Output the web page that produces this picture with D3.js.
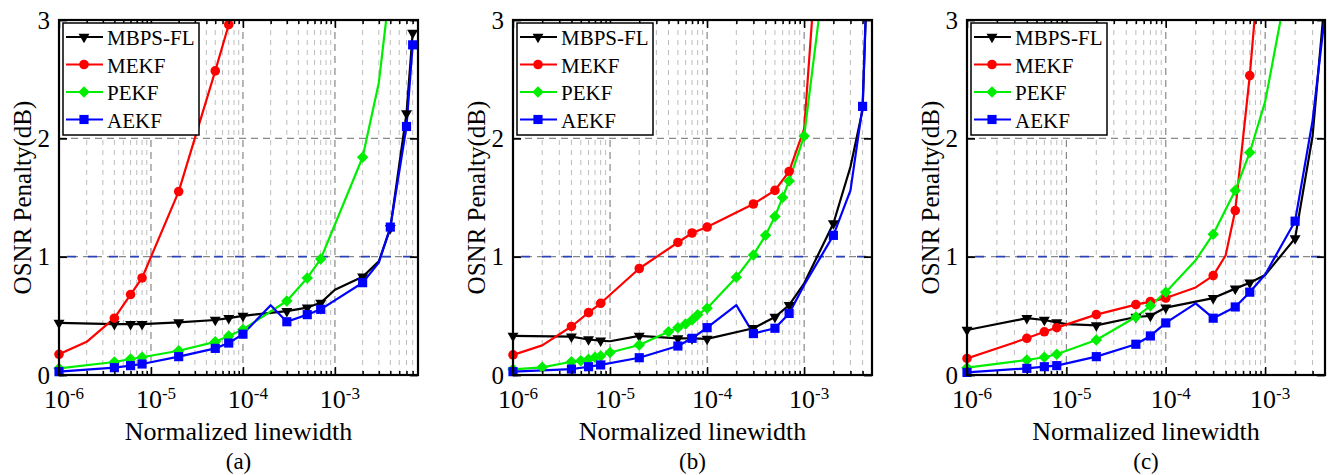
<!DOCTYPE html>
<html>
<head>
<meta charset="utf-8">
<script src="https://cdnjs.cloudflare.com/ajax/libs/d3/7.8.5/d3.min.js"></script>
<style>
  body { margin: 0; background: #fff; }
  text { font-family: "Liberation Serif", "Times New Roman", serif; fill: #000; }
</style>
</head>
<body>
<div id="chart"></div>
<script>
// data: [linewidth, penalty, marker shown (0 = no marker)]
var seriesNames = ["MBPS-FL", "MEKF", "PEKF", "AEKF"];
var panelLabels = ["(a)", "(b)", "(c)"];
var xMaxes = [8e-3, 5e-3, 4e-3];
var yTicks = [0, 1, 2, 3];
var xTickPowers = [-6, -5, -4, -3];

var aBlack = [[1e-6,0.44],[4e-6,0.43],[6e-6,0.43],[8e-6,0.43],[2e-5,0.445],[5e-5,0.465],[7e-5,0.48],[1e-4,0.50],[3e-4,0.54],[5e-4,0.57],[7e-4,0.61],[1e-3,0.72,0],[2e-3,0.83],[3e-3,0.96,0],[4e-3,1.24],[6e-3,2.21],[7e-3,2.89]];
var aRed = [[1e-6,0.175],[2e-6,0.28,0],[4e-6,0.48],[6e-6,0.68],[8e-6,0.82],[2e-5,1.55],[5e-5,2.57],[7e-5,2.96]];
var aGreen = [[1e-6,0.056],[4e-6,0.11],[6e-6,0.135],[8e-6,0.15],[2e-5,0.205],[5e-5,0.28],[7e-5,0.33],[1e-4,0.385],[3e-4,0.625],[5e-4,0.82],[7e-4,0.98],[2e-3,1.84],[3e-3,2.47,0],[4e-3,3.3,0]];
var aBlue = [[1e-6,0.028],[4e-6,0.062],[6e-6,0.079],[8e-6,0.093],[2e-5,0.155],[5e-5,0.225],[7e-5,0.27],[1e-4,0.345],[2e-4,0.59,0],[3e-4,0.45],[5e-4,0.51],[7e-4,0.555],[2e-3,0.78],[3e-3,0.95,0],[4e-3,1.25],[6e-3,2.10],[7e-3,2.79]];

var bBlack = [[1e-6,0.33],[4e-6,0.324],[6e-6,0.30],[8e-6,0.29],[1e-5,0.285,0],[2e-5,0.33],[5e-5,0.31],[7e-5,0.31],[1e-4,0.305],[3e-4,0.395],[5e-4,0.49],[7e-4,0.59],[1e-3,0.775,0],[2e-3,1.28],[3e-3,1.76,0],[4e-3,2.24,0],[5e-3,4.6,0]];
var bRed = [[1e-6,0.17],[2e-6,0.25,0],[4e-6,0.41],[6e-6,0.527],[8e-6,0.606],[2e-5,0.90],[5e-5,1.12],[7e-5,1.20],[1e-4,1.25],[3e-4,1.445],[5e-4,1.56],[7e-4,1.72],[1e-3,2.08,0],[2e-3,5.5,0]];
var bGreen = [[1e-6,0.048],[2e-6,0.065],[4e-6,0.112],[5e-6,0.12],[6e-6,0.133],[7e-6,0.15],[8e-6,0.16],[1e-5,0.19],[2e-5,0.254],[4e-5,0.366],[5e-5,0.40],[6e-5,0.43],[7e-5,0.465],[8e-5,0.51],[1e-4,0.565],[2e-4,0.826],[3e-4,1.015],[4e-4,1.18],[5e-4,1.34],[6e-4,1.50],[7e-4,1.64],[1e-3,2.02],[2e-3,4.0,0]];
var bBlue = [[1e-6,0.028],[4e-6,0.05],[6e-6,0.07],[8e-6,0.085],[2e-5,0.146],[5e-5,0.245],[7e-5,0.31],[1e-4,0.40],[2e-4,0.59,0],[3e-4,0.35],[5e-4,0.395],[7e-4,0.52],[1e-3,0.76,0],[2e-3,1.18],[3e-3,1.56,0],[4e-3,2.27],[5e-3,4.6,0]];

var cBlack = [[1e-6,0.38],[4e-6,0.48],[6e-6,0.465],[8e-6,0.445],[1e-5,0.43,0],[2e-5,0.42],[5e-5,0.49],[7e-5,0.50],[1e-4,0.57],[3e-4,0.65],[5e-4,0.73],[7e-4,0.78],[1e-3,0.845,0],[2e-3,1.155],[3e-3,2.02,0],[4e-3,3.2,0]];
var cRed = [[1e-6,0.14],[4e-6,0.31],[6e-6,0.365],[8e-6,0.40],[2e-5,0.51],[5e-5,0.595],[7e-5,0.62],[1e-4,0.65],[2e-4,0.74,0],[3e-4,0.84],[4e-4,1.01,0],[5e-4,1.39],[7e-4,2.53],[8e-4,3.1,0]];
var cGreen = [[1e-6,0.062],[4e-6,0.127],[6e-6,0.15],[8e-6,0.175],[2e-5,0.296],[5e-5,0.49],[7e-5,0.585],[1e-4,0.70],[2e-4,0.97,0],[3e-4,1.19],[5e-4,1.56],[7e-4,1.88],[1e-3,2.31,0],[2e-3,3.65,0]];
var cBlue = [[1e-6,0.022],[4e-6,0.056],[6e-6,0.07],[8e-6,0.079],[2e-5,0.155],[5e-5,0.26],[7e-5,0.33],[1e-4,0.44],[2e-4,0.605,0],[3e-4,0.48],[5e-4,0.575],[7e-4,0.70],[1e-3,0.85,0],[2e-3,1.30],[3e-3,2.15,0],[4e-3,3.05,0]];

var panelData = [
  [aBlack, aRed, aGreen, aBlue],
  [bBlack, bRed, bGreen, bBlue],
  [cBlack, cRed, cGreen, cBlue]
];

var colors = ["#000000", "#ff0000", "#00ee00", "#0000ff"];
var symbols = [
  { type: d3.symbolTriangle, size: 52, rot: 180 },
  { type: d3.symbolCircle, size: 72, rot: 0 },
  { type: d3.symbolSquare, size: 66, rot: 45 },
  { type: d3.symbolSquare, size: 84, rot: 0 }
];

var svgWidth = 1333;
var svgHeight = 475;
var lefts = [59, 513, 967];
var rights = [418, 872, 1325];
var top0 = 20, bottom0 = 375;

var svg = d3.select("#chart")
  .append("svg")
  .attr("width", svgWidth)
  .attr("height", svgHeight);

panelData.forEach(function(series, p) {
  var width = rights[p] - lefts[p];
  var height = bottom0 - top0;

  var x = d3.scaleLog().domain([1e-6, xMaxes[p]]).range([0, width]);
  var y = d3.scaleLinear().domain([0, 3]).range([height, 0]);

  var g = svg.append("g").attr("transform", `translate(${lefts[p]}, ${top0})`);

  // log ticks
  var majors = [], minors = [];
  xTickPowers.forEach(function(e) {
    majors.push(Math.pow(10, e));
    for (var k = 2; k <= 9; k++) {
      var v = k * Math.pow(10, e);
      if (v < xMaxes[p] * 0.999) minors.push(v);
    }
  });

  // grid
  g.selectAll(".minor-grid").data(minors).enter().append("line")
    .attr("x1", d => x(d)).attr("x2", d => x(d))
    .attr("y1", 0).attr("y2", height)
    .attr("stroke", "#bdbdbd").attr("stroke-width", 1)
    .attr("stroke-dasharray", "5,5");
  g.selectAll(".major-grid").data(majors.slice(1)).enter().append("line")
    .attr("x1", d => x(d)).attr("x2", d => x(d))
    .attr("y1", 0).attr("y2", height)
    .attr("stroke", "#888").attr("stroke-width", 1.2)
    .attr("stroke-dasharray", "7,5");
  g.selectAll(".hgrid").data([1, 2]).enter().append("line")
    .attr("x1", 0).attr("x2", width)
    .attr("y1", d => y(d)).attr("y2", d => y(d))
    .attr("stroke", "#888").attr("stroke-width", 1.2)
    .attr("stroke-dasharray", "7,5");

  // reference line at 1 dB
  g.append("line")
    .attr("x1", 0).attr("x2", width).attr("y1", y(1)).attr("y2", y(1))
    .attr("stroke", "#2a44b8").attr("stroke-width", 1.6)
    .attr("stroke-dasharray", "9,12").attr("stroke-dashoffset", -8);

  // clip
  var clipId = "clip" + p;
  svg.append("clipPath").attr("id", clipId)
    .append("rect").attr("x", 0).attr("y", 0).attr("width", width).attr("height", height);

  var line = d3.line().x(d => x(d[0])).y(d => y(d[1]));
  var plot = g.append("g").attr("clip-path", `url(#${clipId})`);

  series.forEach(function(s, i) {
    plot.append("path")
      .datum(s)
      .attr("d", line)
      .attr("fill", "none")
      .attr("stroke", colors[i])
      .attr("stroke-width", 2.2)
      .attr("stroke-linejoin", "round");
  });
  series.forEach(function(s, i) {
    g.selectAll(null)
      .data(s.filter(d => d[2] !== 0 && d[0] <= xMaxes[p] && d[1] <= 3.05))
      .enter()
      .append("path")
      .attr("d", d3.symbol().type(symbols[i].type).size(symbols[i].size))
      .attr("transform", d => `translate(${x(d[0])}, ${y(d[1])}) rotate(${symbols[i].rot})`)
      .attr("fill", colors[i]);
  });

  // bottom reference line at 0
  g.append("line")
    .attr("x1", x(1e-5)).attr("x2", width).attr("y1", height).attr("y2", height)
    .attr("stroke", "#1c2f8c").attr("stroke-width", 2)
    .attr("stroke-dasharray", "22,16");

  // axes (ticks inside)
  g.append("g").attr("transform", `translate(0, ${height})`)
    .call(d3.axisBottom(x).tickValues(majors).tickSizeInner(-8).tickSizeOuter(0).tickFormat(""))
    .call(a => a.select(".domain").remove());
  g.append("g").attr("transform", `translate(0, ${height})`)
    .call(d3.axisBottom(x).tickValues(minors).tickSizeInner(-4).tickSizeOuter(0).tickFormat(""))
    .call(a => a.select(".domain").remove());
  g.append("g")
    .call(d3.axisTop(x).tickValues(majors).tickSizeInner(-8).tickSizeOuter(0).tickFormat(""))
    .call(a => a.select(".domain").remove());
  g.append("g")
    .call(d3.axisTop(x).tickValues(minors).tickSizeInner(-4).tickSizeOuter(0).tickFormat(""))
    .call(a => a.select(".domain").remove());
  g.selectAll(".tick line").attr("stroke", "#000").attr("stroke-width", 1.5);

  var leftAxis = g.append("g")
    .call(d3.axisLeft(y).tickValues(yTicks).tickSizeInner(-8).tickSizeOuter(0).tickPadding(9).tickFormat(d3.format("d")));
  leftAxis.select(".domain").remove();
  leftAxis.selectAll("text").attr("font-size", 25).attr("font-family", "Liberation Serif").attr("dy", "0.33em");
  leftAxis.selectAll("line").attr("stroke-width", 1.8);
  var rightAxis = g.append("g").attr("transform", `translate(${width}, 0)`)
    .call(d3.axisRight(y).tickValues(yTicks).tickSizeInner(-8).tickSizeOuter(0).tickFormat(""));
  rightAxis.select(".domain").remove();
  rightAxis.selectAll("line").attr("stroke-width", 1.8);

  // frame
  g.append("rect")
    .attr("width", width).attr("height", height)
    .attr("fill", "none").attr("stroke", "#000").attr("stroke-width", 2.2);

  // x tick labels 10^n
  var xl = g.selectAll(".xlab").data(xTickPowers).enter().append("text")
    .attr("x", d => x(Math.pow(10, d)) + 5)
    .attr("y", height + 33)
    .attr("text-anchor", "middle")
    .attr("font-size", 26);
  xl.append("tspan").text("10");
  xl.append("tspan").attr("font-size", 17).attr("dy", -9).text(d => "-" + (-d));

  // axis titles
  g.append("text")
    .attr("x", width / 2).attr("y", height + 65)
    .attr("text-anchor", "middle").attr("font-size", 26)
    .text("Normalized linewidth");
  g.append("text")
    .attr("x", width / 2).attr("y", height + 94)
    .attr("text-anchor", "middle").attr("font-size", 23)
    .text(panelLabels[p]);
  g.append("text")
    .attr("transform", `translate(-28, ${height / 2}) rotate(-90)`)
    .attr("text-anchor", "middle").attr("font-size", 25)
    .text("OSNR Penalty(dB)");

  // legend
  var lg = g.append("g").attr("transform", "translate(4, 3)");
  lg.append("rect")
    .attr("width", 136).attr("height", 112)
    .attr("fill", "#fff").attr("stroke", "#000").attr("stroke-width", 1.5);
  seriesNames.forEach(function(name, i) {
    var cy = 14 + i * 27.5;
    lg.append("line")
      .attr("x1", 3).attr("x2", 40).attr("y1", cy).attr("y2", cy)
      .attr("stroke", colors[i]).attr("stroke-width", 2.2);
    lg.append("path")
      .attr("d", d3.symbol().type(symbols[i].type).size(symbols[i].size))
      .attr("transform", `translate(21, ${cy}) rotate(${symbols[i].rot})`)
      .attr("fill", colors[i]);
    lg.append("text")
      .attr("x", 44).attr("y", cy + 8)
      .attr("font-size", 21)
      .text(name);
  });
});
</script>
</body>
</html>
